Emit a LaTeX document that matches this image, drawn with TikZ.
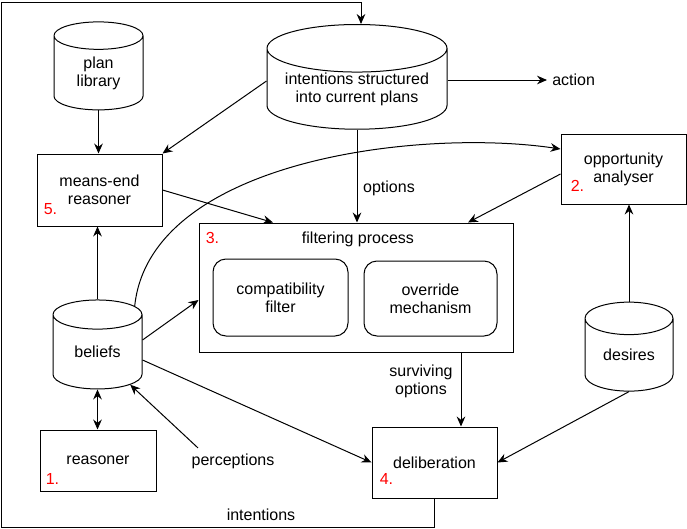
\documentclass[tikz,border=0pt]{standalone}
\usepackage{fontspec}
\setmainfont{Liberation Sans}
\usetikzlibrary{shapes.geometric,arrows.meta}

\begin{document}
\begin{tikzpicture}[x=0.75pt,y=0.75pt,yscale=-1,xscale=1,
		font=\fontsize{12}{13.5}\selectfont,
		box/.style={draw, line width=0.75pt, align=center, inner sep=0pt},
		sub/.style={box, rounded corners=9.75pt},
		store/.style={cylinder, shape border rotate=90, draw, line width=0.75pt, align=center, inner sep=0pt},
		num/.style={text=red, inner sep=0pt},
		lbl/.style={align=center, inner sep=0pt},
		arr/.style={-{Stealth[length=7.5pt,width=6.5pt,inset=2.5pt]}, line width=0.75pt},
		dblarr/.style={{Stealth[length=7.5pt,width=6.5pt,inset=2.5pt]}-{Stealth[length=7.5pt,width=6.5pt,inset=2.5pt]}, line width=0.75pt}]
			\useasboundingbox (0,0) rectangle (687,529);
			
			%Shape: Can
			\node [store, minimum width=66.75pt, minimum height=66pt, aspect=0.63] (planlib) at (98.5,73) {plan\\library};
			%Shape: Can
			\node [store, minimum width=135pt, minimum height=67.5pt, aspect=0.33] (intent) at (357,89) {intentions structured\\into current plans};
			%Shape: Rectangle
			\node [box, minimum width=93.75pt, minimum height=54pt] (means) at (99.5,190) {means-end\\reasoner};
			%Shape: Rectangle
			\node [box, minimum width=93.75pt, minimum height=52.5pt] (oppo) at (623.5,169) {opportunity\\analyser};
			%Shape: Rectangle
			\node [box, minimum width=235.5pt, minimum height=96.75pt] (filter) at (356,287.5) {};
			%Rounded Rect
			\node [sub, minimum width=101.25pt, minimum height=57.75pt] (compat) at (280.5,297.5) {compatibility\\filter};
			%Rounded Rect
			\node [sub, minimum width=99.75pt, minimum height=56.25pt] (override) at (430.5,298.5) {override\\mechanism};
			%Shape: Can
			\node [store, minimum width=66.75pt, minimum height=66.75pt, aspect=0.63] (beliefs) at (97.5,352) {beliefs};
			%Shape: Can
			\node [store, minimum width=66pt, minimum height=66.75pt, aspect=0.63] (desires) at (629,355) {desires};
			%Shape: Rectangle
			\node [box, minimum width=87pt, minimum height=45.75pt] (reasoner) at (98,460.5) {reasoner};
			%Shape: Rectangle
			\node [box, minimum width=93.75pt, minimum height=53.25pt] (delib) at (434.5,462.5) {deliberation};
			
			%Straight Lines
			\draw [arr] (planlib.south) -- (planlib.south |- means.north);
			%Straight Lines
			\draw [arr] (intent.west |- 0,81) -- (means.north east);
			%Straight Lines
			\draw [arr] (intent.south) -- (intent.south |- filter.north);
			%Straight Lines
			\draw [arr] (means.east) -- (filter.north -| 273,0);
			%Straight Lines
			\draw [arr] (oppo.west |- 0,174) -- (filter.north -| 468,0);
			%Straight Lines
			\draw [arr] (desires.north) -- (desires.north |- oppo.south);
			%Straight Lines
			\draw [arr] (beliefs.north) -- (beliefs.north |- means.south);
			%Straight Lines
			\draw [dblarr] (beliefs.south) -- (beliefs.south |- reasoner.north);
			%Straight Lines
			\draw [arr] (beliefs.east |- 0,340) -- (filter.west |- 0,300);
			%Straight Lines
			\draw [arr] (beliefs.east |- 0,360) -- (delib.west);
			%Straight Lines
			\draw [arr] (filter.south -| 461,0) -- (delib.north -| 461,0);
			%Straight Lines
			\draw [arr] (desires.south) -- (delib.east);
			%Curve Lines
			\draw [arr] (beliefs.51) .. controls (150,160) and (420,128) .. (oppo.west |- 0,149);
			
			\node [lbl, anchor=west, inner sep=3.75pt] (action) at (547,80) {action};
			\node [lbl] (optlbl) at (389,188) {options};
			\node [lbl] (survlbl) at (421,381.5) {surviving\\options};
			\node [lbl, inner sep=4pt] (percep) at (233,461) {perceptions};
			\node [lbl] (intlbl) at (261,515) {intentions};
			\node [lbl] (ftitle) at (358,239) {filtering process};
			
			%Straight Lines
			\draw [arr] (intent.east |- action.west) -- (action.west);
			%Straight Lines
			\draw [arr] (percep.north -| 198,0) -- (beliefs.-45);
			%Straight Lines
			\draw [arr] (delib.south) -- (delib.south |- 0,527) -| (1.5,2.5) -| (intent.north -| 361,0);
			
			\node [num] (n1) at ([shift={(13,-13)}]reasoner.south west) {1.};
			\node [num] (n2) at ([shift={(17,-19)}]oppo.south west) {2.};
			\node [num] (n3) at ([shift={(14,15)}]filter.north west) {3.};
			\node [num] (n4) at ([shift={(15,-20)}]delib.south west) {4.};
			\node [num] (n5) at ([shift={(14,-17)}]means.south west) {5.};
			
		\end{tikzpicture}
\end{document}
